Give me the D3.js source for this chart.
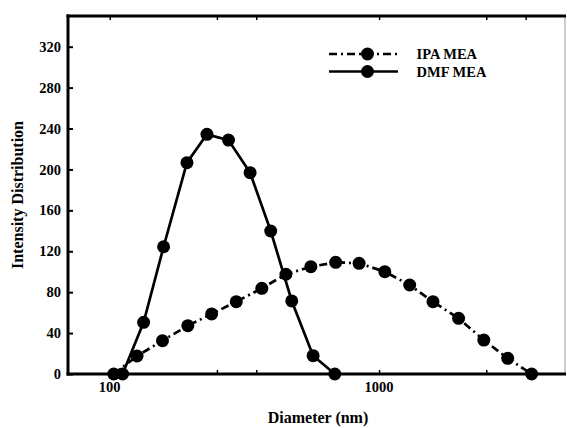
<!DOCTYPE html>
<html>
<head>
<meta charset="utf-8">
<script src="https://cdn.jsdelivr.net/npm/d3@7"></script>
<style>
  html, body { margin: 0; padding: 0; background: #fff; }
  svg { display: block; }
  text { font-family: "Liberation Serif", "Times New Roman", serif; font-weight: bold; fill: #000; }
</style>
</head>
<body>
<div id="chart"></div>
<script>
// ---- data ----
const ipaDiameter = [103.5, 126.3, 157, 195, 239, 295, 367, 451, 558, 690, 843, 1050, 1299, 1585, 1973, 2448, 3003, 3685];
const ipaIntensity = [0, 17.6, 32.6, 47.2, 58.7, 70.7, 83.8, 97.5, 104.9, 109.2, 108.2, 100, 87, 70.7, 54.4, 33.2, 15.3, 0];
const dmfDiameter = [111.6, 133.6, 158.5, 193.5, 229.6, 276, 332, 396, 474, 569, 685];
const dmfIntensity = [0, 50.5, 124.4, 206.6, 234.3, 228.7, 196.8, 139.8, 71.4, 17.9, 0];
const seriesNames = ["IPA MEA", "DMF MEA"];
const yTicks = [0, 40, 80, 120, 160, 200, 240, 280, 320];
const xMajorTicks = [100, 1000];
const xMinorTicks = [250, 350, 2500, 3500];
const xTitle = "Diameter (nm)";
const yTitle = "Intensity Distribution";

(function () {
const W = 567, H = 428;
const pL = 68, pR = 565, pT = 16, pB = 374;

const svg = d3.select("#chart").append("svg").attr("width", W).attr("height", H);

const x = d3.scaleLog().domain([70, 4900]).range([pL, pR]);
const y = d3.scaleLinear().domain([0, 350]).range([pB, pT]);

// frame
svg.append("line").attr("x1", pR).attr("x2", pR).attr("y1", pT).attr("y2", pB)
  .attr("stroke", "#999").attr("stroke-width", 1);
svg.append("line").attr("x1", pL - 1.5).attr("x2", pR + 1).attr("y1", pT).attr("y2", pT)
  .attr("stroke", "#000").attr("stroke-width", 3);

// y axis (inward ticks)
const yAxis = d3.axisRight(y).tickValues(yTicks).tickSize(5).tickFormat("");
const gy = svg.append("g").attr("transform", `translate(${pL},0)`).call(yAxis);
gy.select(".domain").remove();
gy.selectAll(".tick line").attr("stroke-width", 2);
svg.append("g").selectAll("text").data(yTicks).join("text")
  .attr("x", pL - 7).attr("y", d => y(d)).attr("dy", "0.35em")
  .attr("text-anchor", "end").attr("font-size", 14.5).text(d => d);

// x axis bottom and top (inward ticks)
const allX = xMajorTicks.concat(xMinorTicks);
const xAxis = d3.axisTop(x).tickValues(allX).tickSize(4).tickFormat("");
const gx = svg.append("g").attr("transform", `translate(0,${pB})`).call(xAxis);
gx.select(".domain").remove();
gx.selectAll(".tick line").attr("stroke-width", 1.5);
const xAxisTop = d3.axisBottom(x).tickValues(allX).tickSize(4).tickFormat("");
const gxt = svg.append("g").attr("transform", `translate(0,${pT})`).call(xAxisTop);
gxt.select(".domain").remove();
gxt.selectAll(".tick line").attr("stroke-width", 1.5);
svg.append("g").selectAll("text").data(xMajorTicks).join("text")
  .attr("x", d => x(d)).attr("y", 392).attr("text-anchor", "middle")
  .attr("font-size", 14.5).text(d => d);

// axis lines
svg.append("line").attr("x1", pL).attr("x2", pL).attr("y1", pT - 1.5).attr("y2", pB + 1.5)
  .attr("stroke", "#000").attr("stroke-width", 3);
svg.append("line").attr("x1", pL - 1.5).attr("x2", pR + 1).attr("y1", pB).attr("y2", pB)
  .attr("stroke", "#000").attr("stroke-width", 3);

// titles
svg.append("text").attr("x", 318).attr("y", 423).attr("text-anchor", "middle")
  .attr("font-size", 16).text(xTitle);
svg.append("text").attr("transform", "translate(23,195) rotate(-90)").attr("text-anchor", "middle")
  .attr("font-size", 16).text(yTitle);

// series
const dash = "8,4,2,4";
const ipa = ipaDiameter.map((d, i) => [d, ipaIntensity[i]]);
const dmf = dmfDiameter.map((d, i) => [d, dmfIntensity[i]]);
const line = d3.line().x(d => x(d[0])).y(d => y(d[1]));

svg.append("path").datum(ipa).attr("d", line).attr("fill", "none")
  .attr("stroke", "#000").attr("stroke-width", 2.7).attr("stroke-dasharray", dash);
svg.append("path").datum(dmf).attr("d", line).attr("fill", "none")
  .attr("stroke", "#000").attr("stroke-width", 2.7);
svg.append("g").selectAll("circle").data(ipa).join("circle")
  .attr("cx", d => x(d[0])).attr("cy", d => y(d[1])).attr("r", 6.5).attr("fill", "#000");
svg.append("g").selectAll("circle").data(dmf).join("circle")
  .attr("cx", d => x(d[0])).attr("cy", d => y(d[1])).attr("r", 6.5).attr("fill", "#000");

// legend
const legend = svg.append("g");
const legY = [54, 71.5];
const legDash = [dash, null];
seriesNames.forEach((name, i) => {
  legend.append("line").attr("x1", 329).attr("x2", 398).attr("y1", legY[i]).attr("y2", legY[i])
    .attr("stroke", "#000").attr("stroke-width", 2.7)
    .attr("stroke-dasharray", legDash[i]);
  legend.append("circle").attr("cx", 367.5).attr("cy", legY[i]).attr("r", 6.5).attr("fill", "#000");
  legend.append("text").attr("x", 416.5).attr("y", legY[i]).attr("dy", "0.35em")
    .attr("font-size", 14.5).text(name);
});
})();
</script>
</body>
</html>
